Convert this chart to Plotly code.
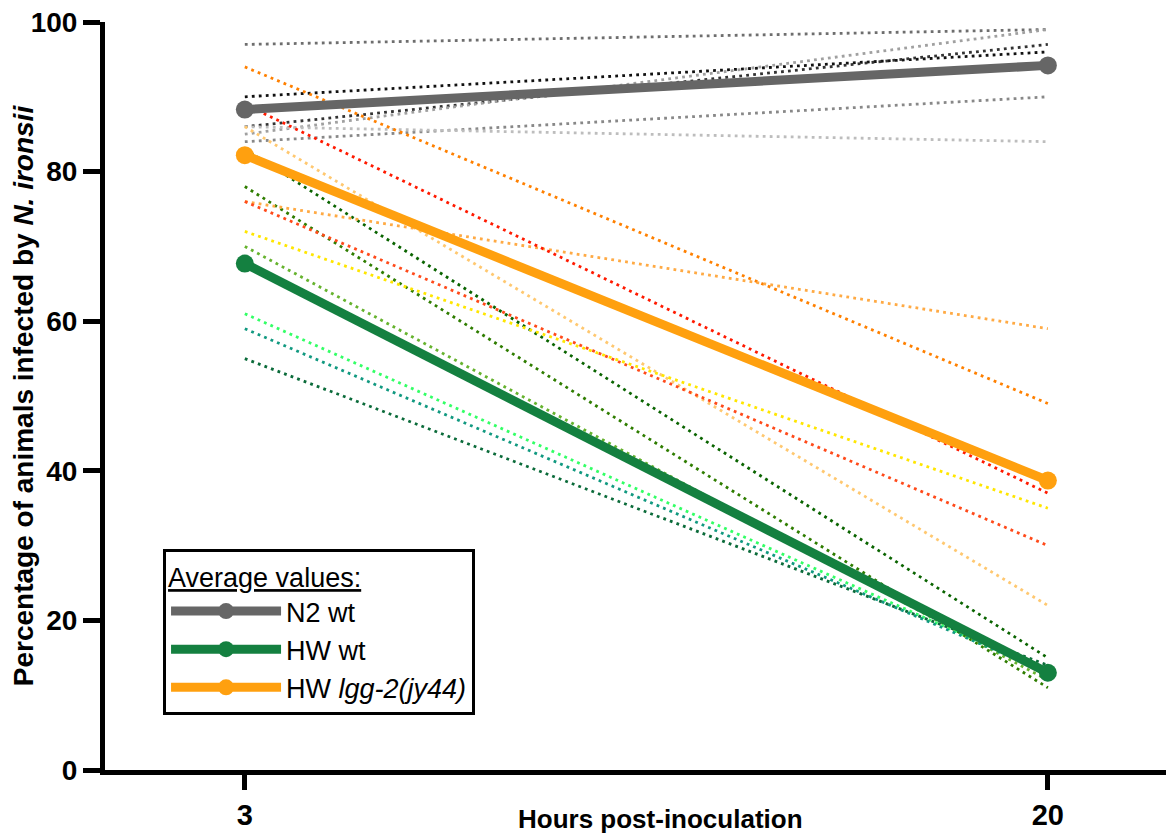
import plotly.graph_objects as go

# ---------------- data ----------------
hours = [3, 20]

n2_reps = [[97, 99], [90, 96], [86, 97], [85, 99], [84, 90], [86, 84]]
n2_rep_colors = ["#6e6e6e", "#111111", "#333333", "#a0a0a0", "#888888", "#bdbdbd"]

hw_reps = [[83, 15], [78, 11], [70, 12], [61, 13], [59, 13], [55, 14]]
hw_rep_colors = ["#0a6400", "#2f7d00", "#66b32e", "#33ff66", "#119980", "#0b6b3a"]

lgg_reps = [[94, 49], [86, 22], [76, 59], [89, 37], [76, 30], [72, 35]]
lgg_rep_colors = ["#ff8000", "#ffc870", "#ffaa44", "#ff1a00", "#ff4a1a", "#ffe600"]

avg_names = ["N2 wt", "HW wt", "HW <i>lgg-2(jy44)</i>"]
avg_values = [[88.3, 94.2], [67.7, 13.0], [82.2, 38.7]]
avg_colors = ["#666666", "#148040", "#ffa00f"]

x_title = "Hours post-inoculation"
y_title = "Percentage of animals infected by <i>N. ironsii</i>"

# ---------------- figure ----------------
fig = go.Figure()

for reps, cols in [(n2_reps, n2_rep_colors), (hw_reps, hw_rep_colors), (lgg_reps, lgg_rep_colors)]:
    for vals, c in zip(reps, cols):
        fig.add_trace(go.Scatter(
            x=hours, y=vals, mode="lines",
            line=dict(color=c, width=2.8, dash="2.8px,4.2px"),
            showlegend=False, hoverinfo="skip"))

for name, vals, c in zip(avg_names, avg_values, avg_colors):
    fig.add_trace(go.Scatter(
        x=hours, y=vals, mode="lines+markers", name=name,
        line=dict(color=c, width=9),
        marker=dict(color=c, size=18)))

font_main = "Liberation Sans, Arial, sans-serif"

fig.update_layout(
    width=1166, height=829,
    margin=dict(l=97, r=0, t=14, b=67, autoexpand=False),
    plot_bgcolor="white", paper_bgcolor="white",
    font=dict(family=font_main, color="black"),
    showlegend=True,
    legend=dict(
        x=0.0543, y=0.2955, xanchor="left", yanchor="top",
        bgcolor="white", bordercolor="black", borderwidth=3,
        font=dict(size=27, family=font_main, color="black"),
        title=dict(text="<u>Average values:</u>", font=dict(size=27, family=font_main)),
        itemwidth=110, tracegroupgap=0,
    ),
    xaxis=dict(
        range=[0.04, 22.67], tickvals=hours, ticktext=["3", "20"],
        showline=True, linecolor="black", linewidth=5,
        ticks="outside", ticklen=15, tickwidth=5, tickcolor="black",
        showgrid=False, zeroline=False, automargin=False,
        ticklabeloverflow="allow",
        tickfont=dict(size=29, family=font_main, weight="bold"),
    ),
    yaxis=dict(
        range=[0, 100], tickvals=[0, 20, 40, 60, 80, 100],
        showline=True, linecolor="black", linewidth=5,
        ticks="outside", ticklen=17, tickwidth=5, tickcolor="black",
        showgrid=False, zeroline=False, automargin=False,
        ticklabeloverflow="allow",
        tickfont=dict(size=28, family=font_main, weight="bold"),
        title=dict(text="<b>" + y_title + "</b>", font=dict(size=28), standoff=4),
    ),
    annotations=[dict(
        text="<b>" + x_title + "</b>", xref="paper", yref="paper",
        x=0.52, y=-0.066, xanchor="center", yanchor="middle",
        showarrow=False, font=dict(size=26, family=font_main, color="black"),
    )],
)

fig.write_html("out.html")
